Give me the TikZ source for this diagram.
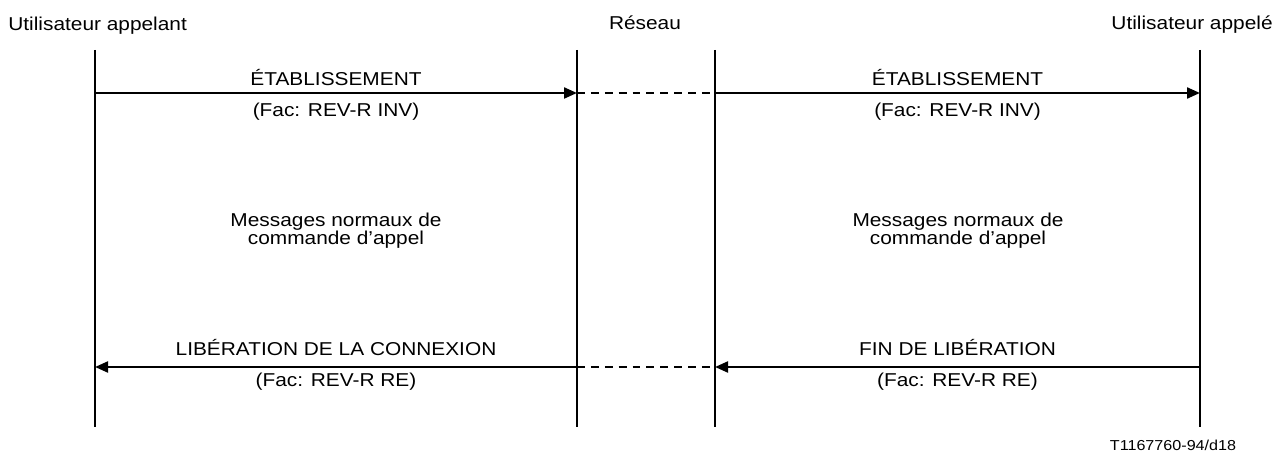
\documentclass[tikz,border=0pt]{standalone}
\usepackage{fontspec}
\setmainfont[FakeStretch=1.12]{Liberation Sans}
\usetikzlibrary{arrows.meta}

\begin{document}
\begin{tikzpicture}[x=0.02cm,y=-0.02cm,
    every node/.style={font=\fontsize{10.6}{10}\selectfont,inner sep=0pt},
    lab/.style={anchor=base},
    block/.style={align=center,font=\fontsize{10.6}{10.4}\selectfont},
    lifeline/.style={line width=1.6pt},
    msg/.style={line width=1.4pt,-{Triangle[length=7.4pt,width=6.2pt]}},
    relay/.style={line width=1.4pt,dash pattern=on 4.5pt off 3.4pt}]
            \useasboundingbox (0,0) rectangle (1281,452);
            % lignes de vie
            \foreach \n/\x in {ua/95,ra/577,rb/715,ub/1200}{
                \coordinate (\n top) at (\x,50);
                \coordinate (\n bot) at (\x,427);
                \coordinate (\n m1) at (\x,93);
                \coordinate (\n m2) at (\x,367);
                \draw[lifeline] (\n top)--(\n bot);
            }
            \node[anchor=base west] (lbua) at (8,31) {Utilisateur appelant};
            \node[lab] (lbres) at (645,30) {Réseau};
            \node[anchor=base east] (lbub) at (1273,30) {Utilisateur appelé};
            % etablissement
            \draw[msg] (uam1)--node[lab,yshift=4.5pt]{ÉTABLISSEMENT}node[lab,yshift=-13.6pt]{(Fac: REV-R INV)}(ram1);
            \draw[relay] (ram1)--(rbm1);
            \draw[msg] (rbm1)--node[lab,yshift=4.5pt]{ÉTABLISSEMENT}node[lab,yshift=-13.6pt]{(Fac: REV-R INV)}(ubm1);
            % phase normale
            \node[block] (mna) at (336,231) {Messages normaux de\\commande d'appel};
            \node[block] (mnb) at (958,231) {Messages normaux de\\commande d'appel};
            % liberation
            \draw[msg] (ram2)--node[lab,yshift=6.8pt]{LIBÉRATION DE LA CONNEXION}node[lab,yshift=-11.3pt]{(Fac: REV-R RE)}(uam2);
            \draw[relay] (ram2)--(rbm2);
            \draw[msg] (ubm2)--node[lab,yshift=6.8pt]{FIN DE LIBÉRATION}node[lab,yshift=-11.3pt]{(Fac: REV-R RE)}(rbm2);
            \node[lab,font=\fontsize{8.2}{10}\selectfont] (ref) at (1173,450) {T1167760-94/d18};
        \end{tikzpicture}
\end{document}
